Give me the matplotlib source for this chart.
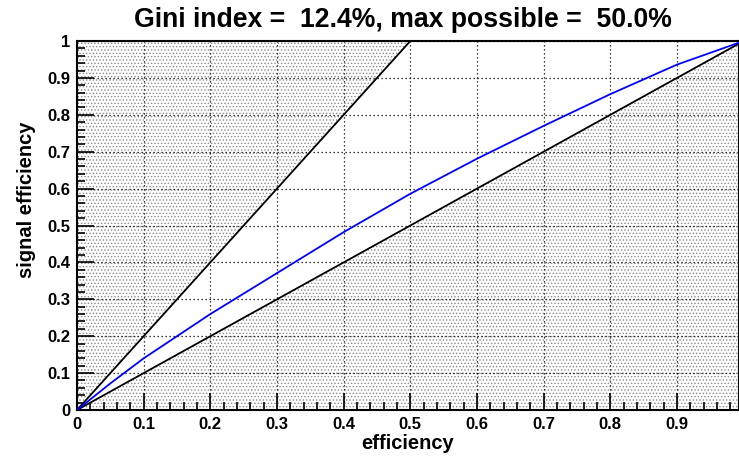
import matplotlib
matplotlib.use("Agg")
import matplotlib.pyplot as plt
from matplotlib.ticker import MultipleLocator, FixedLocator

plt.rcParams['font.family'] = ['Liberation Sans', 'DejaVu Sans']
plt.rcParams['font.weight'] = 'bold'
plt.rcParams['hatch.color'] = '#8a8a8a'
plt.rcParams['hatch.linewidth'] = 0.6

# ROC-style curve: efficiency vs signal efficiency
eff = [0.0, 0.05, 0.1, 0.2, 0.3, 0.4, 0.5, 0.6, 0.7, 0.8, 0.9, 1.0]
sig_eff = [0.0, 0.072, 0.14, 0.26, 0.371, 0.482, 0.586, 0.681, 0.770, 0.856, 0.936, 1.0]

# reference lines: diagonal (no separation) and the maximal possible curve
diag_x = [0.0, 1.0]
diag_y = [0.0, 1.0]
best_x = [0.0, 0.5]
best_y = [0.0, 1.0]

gini = 12.4
gini_max = 50.0
x_ticks = [0.0, 0.1, 0.2, 0.3, 0.4, 0.5, 0.6, 0.7, 0.8, 0.9]
y_ticks = [0.0, 0.1, 0.2, 0.3, 0.4, 0.5, 0.6, 0.7, 0.8, 0.9, 1.0]
x_max = 0.993

fig = plt.figure(figsize=(7.39, 4.57), dpi=100)
ax = fig.add_axes([77 / 739, 47 / 457, 1 - 77 / 739, 369 / 457])
ax.set_xlim(0, x_max)
ax.set_ylim(0, 1)

# dotted shading of the regions outside the allowed band
ax.fill_between(best_x, best_y, [1.0, 1.0], facecolor='none', edgecolor='#8a8a8a',
                hatch='.....', linewidth=0, zorder=1)
ax.fill_between(diag_x, [0.0, 0.0], diag_y, facecolor='none', edgecolor='#8a8a8a',
                hatch='.....', linewidth=0, zorder=1)

ax.xaxis.set_major_locator(FixedLocator(x_ticks))
ax.yaxis.set_major_locator(FixedLocator(y_ticks))
ax.xaxis.set_minor_locator(MultipleLocator(0.02))
ax.yaxis.set_minor_locator(MultipleLocator(0.02))
ax.set_xticklabels(['0' if v == 0 else f'{v:g}' for v in x_ticks])
ax.set_yticklabels(['0' if v == 0 else f'{v:g}' for v in y_ticks])

ax.grid(True, which='major', color='black', linestyle=(0, (1, 2.2)), linewidth=0.9, zorder=2)
ax.set_axisbelow(False)

ax.plot(best_x, best_y, color='black', linewidth=1.3, zorder=3)
ax.plot(diag_x, diag_y, color='black', linewidth=1.3, zorder=3)
ax.plot(eff, sig_eff, color='#0000ff', linewidth=1.3, zorder=4)

ax.tick_params(which='both', direction='in', top=False, right=False,
               labelsize=12, width=1.2, pad=5)
ax.tick_params(which='major', length=12)
ax.tick_params(which='minor', length=6)
for s in ax.spines.values():
    s.set_linewidth(1.5)

ax.set_xlabel('efficiency', fontsize=14.5, fontweight='bold')
ax.xaxis.set_label_coords(0.5, -0.064)
ax.set_ylabel('signal efficiency', fontsize=14.5, fontweight='bold')
ax.yaxis.set_label_coords(-0.062, 0.57)

fig.text(403 / 739, 1 - 20 / 457,
         f'Gini index =  {gini:.1f}%, max possible =  {gini_max:.1f}%',
         ha='center', va='center', fontsize=19.2, fontweight='bold')

fig.savefig('out.png', dpi=100)
